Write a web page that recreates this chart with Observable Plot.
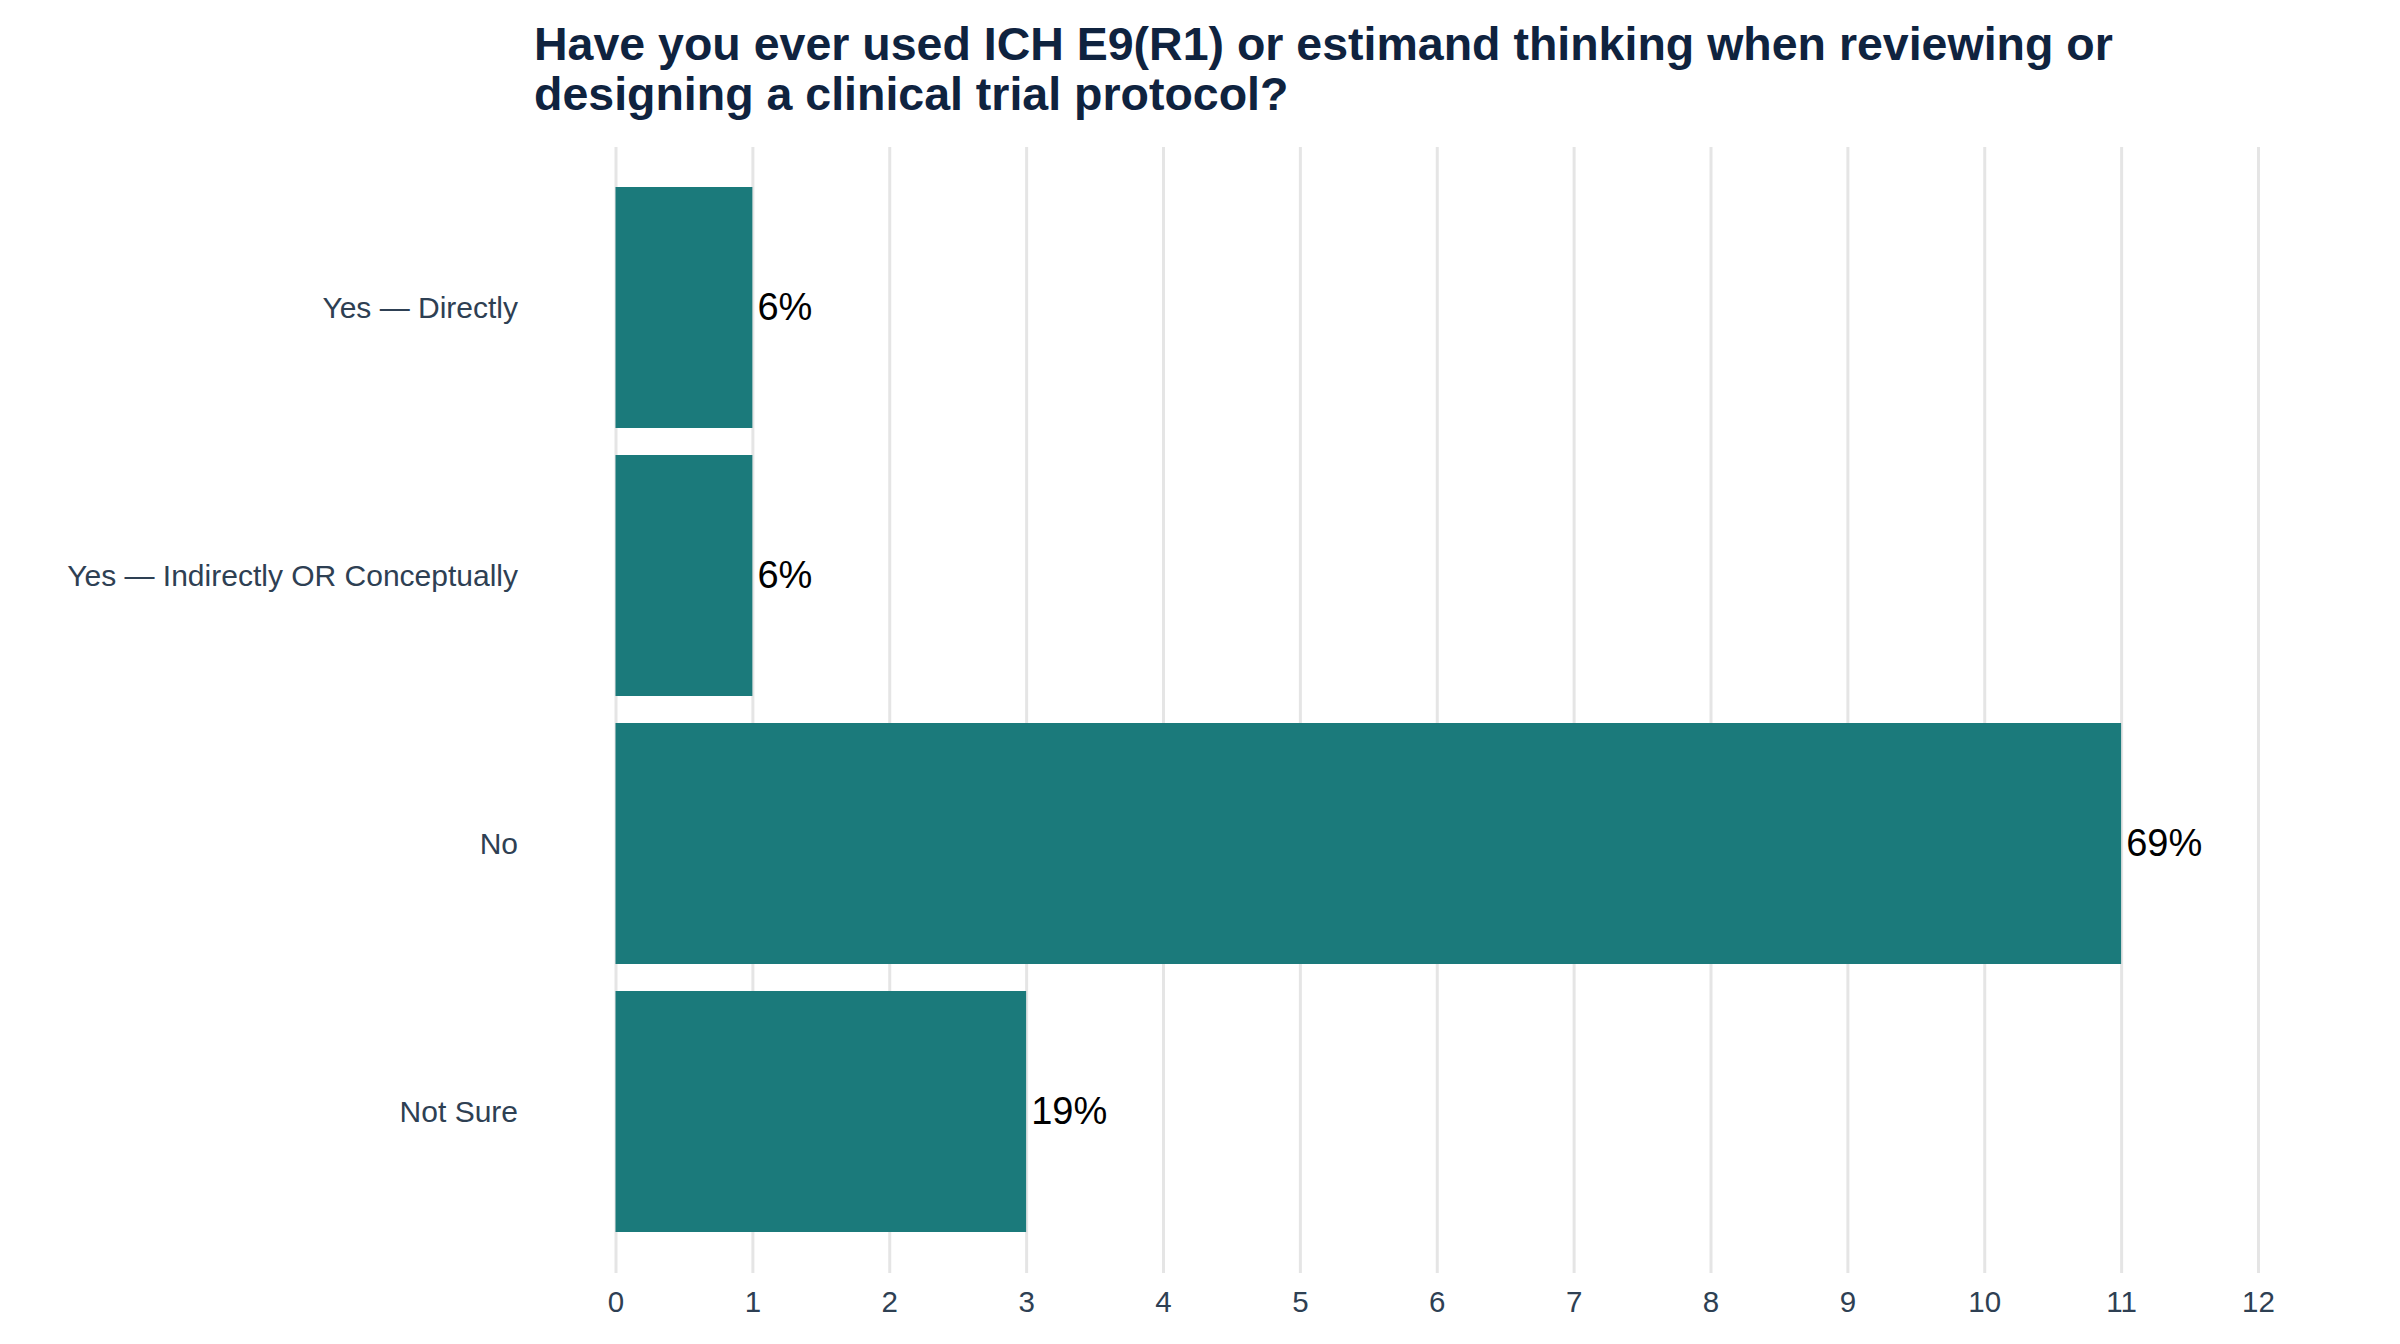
<!DOCTYPE html>
<html>
<head>
<meta charset="utf-8">
<script src="https://cdn.jsdelivr.net/npm/d3@7"></script>
<script src="https://cdn.jsdelivr.net/npm/@observablehq/plot@0.6"></script>
<style>
  body { margin: 0; background: #ffffff; }
  #wrap { position: relative; width: 2400px; height: 1344px; font-family: "Liberation Sans", Arial, sans-serif; background: #fff; }
  #title { position: absolute; left: 534px; top: 19px; font-weight: bold; font-size: 46.5px; line-height: 50px; color: #0f233f; white-space: nowrap; }
  #chart { position: absolute; left: 0; top: 0; }
</style>
</head>
<body>
<div id="wrap">
  <div id="chart"></div>
  <div id="title">Have you ever used ICH E9(R1) or estimand thinking when reviewing or<br>designing a clinical trial protocol?</div>
</div>
<script>
const categories = ["Yes — Directly", "Yes — Indirectly OR Conceptually", "No", "Not Sure"];
const counts = [1, 1, 11, 3];
const xTicks = [0, 1, 2, 3, 4, 5, 6, 7, 8, 9, 10, 11, 12];

const total = d3.sum(counts);
const data = categories.map((c, i) => ({
  cat: c,
  count: counts[i],
  label: Math.round(counts[i] / total * 100) + "%"
}));

const chart = Plot.plot({
  width: 2400,
  height: 1344,
  marginLeft: 615.5,
  marginRight: 142,
  marginTop: 147,
  marginBottom: 71,
  style: { fontFamily: "'Liberation Sans', Arial, sans-serif", fontSize: "30px", color: "#2e4053", background: "#fff" },
  x: { domain: [0, 12], label: null },
  y: { domain: categories, paddingInner: 0.1, paddingOuter: 0.15, label: null },
  marks: [
    Plot.gridX(xTicks, { stroke: "#e5e5e5", strokeOpacity: 1, strokeWidth: 3 }),
    Plot.barX(data, { x: "count", y: "cat", fill: "#1b7a7b" }),
    Plot.text(data, { x: "count", y: "cat", text: "label", textAnchor: "start", dx: 4.5, fill: "#000", fontSize: 38 }),
    Plot.axisX({ ticks: xTicks, tickSize: 0, tickPadding: 18, fontSize: 29.5, label: null }),
    Plot.axisY({ tickSize: 0, tickPadding: 98, fontSize: 30, label: null })
  ]
});
document.getElementById("chart").appendChild(chart);
</script>
</body>
</html>
